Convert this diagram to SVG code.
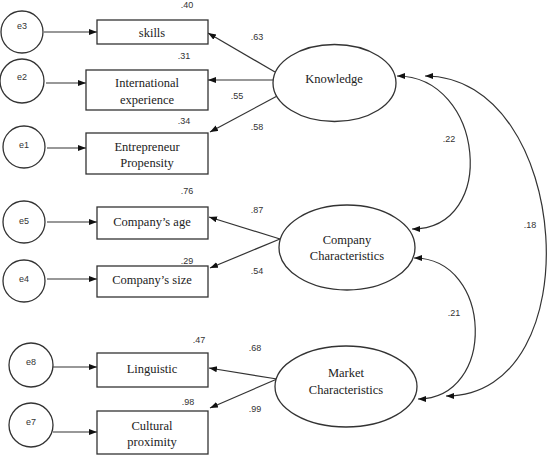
<svg xmlns="http://www.w3.org/2000/svg" width="547" height="455" viewBox="0 0 547 455">
<defs>
<marker id="ah" markerWidth="9" markerHeight="7" refX="8" refY="3" orient="auto-start-reverse" markerUnits="userSpaceOnUse"><path d="M0,0 L8,3 L0,6 z" fill="#111"/></marker>
<style>
.sh{fill:#fff;stroke:#333;stroke-width:1.3}
.ln{fill:none;stroke:#333;stroke-width:1.2}
.lb{font-family:'Liberation Serif','Times New Roman','DejaVu Serif',serif;font-size:12.5px;fill:#222;text-anchor:middle}
.sm{font-family:'Liberation Sans',Arial,sans-serif;font-size:9px;fill:#333;text-anchor:middle}
</style>
</defs>
<rect width="547" height="455" fill="#fff"/>
<g id="connectors">
<path class="ln" d="M44,32 H97" marker-end="url(#ah)"/>
<path class="ln" d="M46,83 H86" marker-end="url(#ah)"/>
<path class="ln" d="M47,148 H86" marker-end="url(#ah)"/>
<path class="ln" d="M47,222 H97" marker-end="url(#ah)"/>
<path class="ln" d="M47,279 H97" marker-end="url(#ah)"/>
<path class="ln" d="M53,367 H97" marker-end="url(#ah)"/>
<path class="ln" d="M53,432 H97" marker-end="url(#ah)"/>
<path class="ln" d="M275,72 L208,33" marker-end="url(#ah)"/>
<path class="ln" d="M274,80 L208,80" marker-end="url(#ah)"/>
<path class="ln" d="M279,95 L210,132" marker-end="url(#ah)"/>
<path class="ln" d="M280,239 L209,217" marker-end="url(#ah)"/>
<path class="ln" d="M280,239 L210,268" marker-end="url(#ah)"/>
<path class="ln" d="M277,379 L209,368" marker-end="url(#ah)"/>
<path class="ln" d="M277,379 L210,408" marker-end="url(#ah)"/>
<path class="ln" d="M397,76 C484,76 499,229 412,229" marker-start="url(#ah)" marker-end="url(#ah)"/>
<path class="ln" d="M425,76 C572,76 593,396 446,396" marker-start="url(#ah)" marker-end="url(#ah)"/>
<path class="ln" d="M414,258 C493,258 497,399 418,399" marker-start="url(#ah)" marker-end="url(#ah)"/>
<text class="sm" x="187" y="8">.40</text>
<text class="sm" x="257" y="40">.63</text>
<text class="sm" x="184" y="59">.31</text>
<text class="sm" x="237" y="99">.55</text>
<text class="sm" x="184" y="124">.34</text>
<text class="sm" x="257" y="130">.58</text>
<text class="sm" x="187" y="194">.76</text>
<text class="sm" x="257" y="213">.87</text>
<text class="sm" x="187" y="264">.29</text>
<text class="sm" x="257" y="274">.54</text>
<text class="sm" x="199" y="343">.47</text>
<text class="sm" x="255" y="351">.68</text>
<text class="sm" x="188" y="405">.98</text>
<text class="sm" x="255" y="412">.99</text>
<text class="sm" x="449" y="142">.22</text>
<text class="sm" x="530" y="228">.18</text>
<text class="sm" x="454" y="316">.21</text>
</g>
<g id="e3"><circle class="sh" cx="22" cy="32" r="21"/><text class="sm" x="22" y="29">e3</text></g>
<g id="e2"><circle class="sh" cx="22" cy="81" r="22"/><text class="sm" x="22" y="80">e2</text></g>
<g id="e1"><circle class="sh" cx="24" cy="147" r="21"/><text class="sm" x="24" y="148">e1</text></g>
<g id="e5"><circle class="sh" cx="24" cy="222" r="21"/><text class="sm" x="24" y="224">e5</text></g>
<g id="e4"><circle class="sh" cx="24" cy="281" r="21"/><text class="sm" x="24" y="282">e4</text></g>
<g id="e8"><circle class="sh" cx="31" cy="365" r="22"/><text class="sm" x="31" y="365">e8</text></g>
<g id="e7"><circle class="sh" cx="31" cy="425" r="22"/><text class="sm" x="31" y="425">e7</text></g>
<g id="skills"><rect class="sh" x="97" y="20" width="111" height="24"/><text class="lb" x="152" y="37">skills</text></g>
<g id="intl"><rect class="sh" x="86" y="70" width="122" height="40"/><text class="lb" x="147" y="87">International</text><text class="lb" x="147" y="104">experience</text></g>
<g id="entre"><rect class="sh" x="86" y="133" width="122" height="41"/><text class="lb" x="147" y="151">Entrepreneur</text><text class="lb" x="147" y="167">Propensity</text></g>
<g id="age"><rect class="sh" x="97" y="207" width="111" height="32"/><text class="lb" x="152" y="226">Company’s age</text></g>
<g id="size"><rect class="sh" x="97" y="266" width="111" height="31"/><text class="lb" x="152" y="284">Company’s size</text></g>
<g id="ling"><rect class="sh" x="97" y="353" width="111" height="34"/><text class="lb" x="152" y="373">Linguistic</text></g>
<g id="cult"><rect class="sh" x="97" y="411" width="111" height="43"/><text class="lb" x="152" y="430">Cultural</text><text class="lb" x="152" y="446">proximity</text></g>
<g id="knowledge"><ellipse class="sh" cx="334.5" cy="83" rx="61.5" ry="38.5"/><text class="lb" x="334" y="83">Knowledge</text></g>
<g id="company"><ellipse class="sh" cx="347" cy="247.5" rx="68" ry="42.5"/><text class="lb" x="347" y="244">Company</text><text class="lb" x="347" y="260">Characteristics</text></g>
<g id="market"><ellipse class="sh" cx="346" cy="386.5" rx="71" ry="40.5"/><text class="lb" x="346" y="377">Market</text><text class="lb" x="346" y="394">Characteristics</text></g>
</svg>
